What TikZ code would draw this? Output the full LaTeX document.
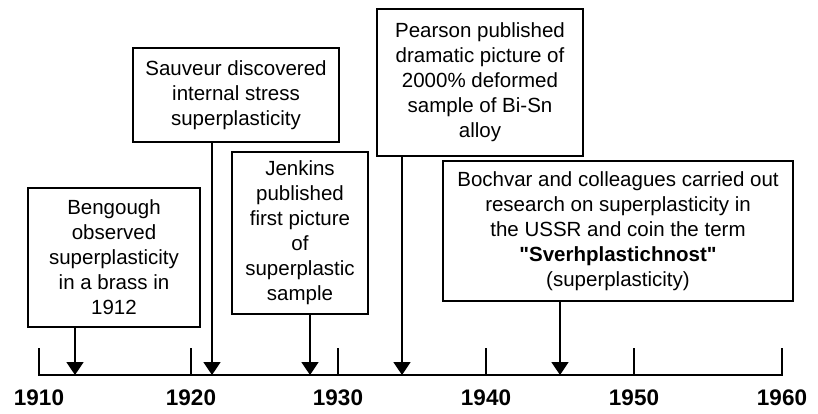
\documentclass[tikz,border=0pt]{standalone}
\usepackage{fontspec}
\setmainfont{Liberation Sans}[Ligatures=TeXOff]
\usetikzlibrary{arrows.meta}

\begin{document}
\begin{tikzpicture}[x=1pt,y=-1pt,
        event/.style={draw,line width=1.5pt,align=center,inner sep=0pt,font=\fontsize{20.5}{25}\selectfont},
        evarrow/.style={line width=1.8pt,-{Triangle[width=17pt,length=13pt]}},
        yearlbl/.style={font=\fontsize{22.5}{26}\selectfont\bfseries}]
        \useasboundingbox (0,0) rectangle (818,414);
        % time axis
        \draw[line width=1.8pt] (39,348) -- (39,375) -- (782,375) -- (782,348);
        \foreach \x/\yr in {39/1910,191/1920,338/1930,486/1940,634/1950,782/1960}{
            \draw[line width=1.8pt] (\x,348) -- (\x,375);
            \node[yearlbl] (yr\yr) at (\x,398) {\yr};
        }
        % events
        \node[event,minimum width=172pt,minimum height=139pt] (bengough) at (114,257.5) {Bengough\\observed\\superplasticity\\in a brass in\\1912};
        \node[event,minimum width=206pt,minimum height=94pt] (sauveur) at (236,95) {Sauveur discovered\\internal stress\\superplasticity};
        \node[event,minimum width=136pt,minimum height=162pt] (jenkins) at (300,233) {Jenkins\\published\\first picture\\of\\superplastic\\sample};
        \node[event,minimum width=206pt,minimum height=147pt] (pearson) at (480,82.5) {Pearson published\\dramatic picture of\\2000\% deformed\\sample of Bi-Sn\\alloy};
        \node[event,minimum width=350pt,minimum height=140pt] (bochvar) at (618,231) {Bochvar and colleagues carried out\\research on superplasticity in\\the USSR and coin the term\\\textbf{"Sverhplastichnost"}\\(superplasticity)};
        \coordinate (t1912) at (75,375);
        \coordinate (t1921) at (212,375);
        \coordinate (t1928) at (310,375);
        \coordinate (t1934) at (402,375);
        \coordinate (t1945) at (560,375);
        \draw[evarrow] (bengough.south -| t1912) -- (t1912);
        \draw[evarrow] (sauveur.south -| t1921) -- (t1921);
        \draw[evarrow] (jenkins.south -| t1928) -- (t1928);
        \draw[evarrow] (pearson.south -| t1934) -- (t1934);
        \draw[evarrow] (bochvar.south -| t1945) -- (t1945);
    \end{tikzpicture}
\end{document}
